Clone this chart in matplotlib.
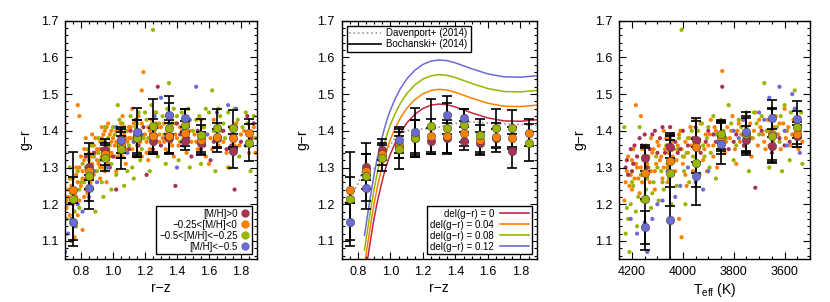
import numpy as np
import matplotlib.pyplot as plt
from matplotlib.ticker import MultipleLocator
from matplotlib.lines import Line2D

plt.rcParams['font.family'] = ['Liberation Sans', 'DejaVu Sans']
plt.rcParams['mathtext.fontset'] = 'custom'
plt.rcParams['mathtext.rm'] = 'Liberation Sans'
plt.rcParams['axes.unicode_minus'] = True

# colours for the metallicity groups
c_hi = '#a83255'
c_mid = '#ff8000'
c_low = '#9ab400'
c_vlow = '#6b6bd6'
group_colors = [c_hi, c_mid, c_low, c_vlow]
group_labels = ['[M/H]>0', '\u22120.25<[M/H]<0', '\u22120.5<[M/H]<\u22120.25', '[M/H]<\u22120.5']

# ---------------- panel 1 / 2 : binned g-r vs r-z ----------------
rz_bins = [0.75, 0.85, 0.95, 1.05, 1.15, 1.25, 1.35, 1.45, 1.55, 1.65, 1.75, 1.85]
nan = np.nan
rz_hi_mean = [nan, 1.302, 1.349, 1.355, 1.385, 1.372, 1.380, 1.373, 1.368, 1.380, 1.345, nan]
rz_hi_err = [nan, 0.035, 0.028, 0.030, 0.045, 0.035, 0.040, 0.025, 0.030, 0.025, 0.045, nan]
rz_mid_mean = [1.238, 1.290, 1.337, 1.362, 1.380, 1.386, 1.385, 1.393, 1.375, 1.382, 1.380, 1.395]
rz_mid_err = [0.035, 0.048, 0.030, 0.035, 0.050, 0.045, 0.045, 0.035, 0.040, 0.040, 0.030, 0.037]
rz_low_mean = [1.213, 1.278, 1.326, 1.350, 1.380, 1.413, 1.407, 1.415, 1.388, 1.407, 1.407, 1.368]
rz_low_err = [0.128, 0.090, 0.035, 0.055, 0.050, 0.075, 0.070, 0.045, 0.045, 0.053, 0.050, 0.050]
rz_vlow_mean = [1.152, 1.245, nan, 1.375, 1.398, nan, 1.443, 1.435, nan, nan, nan, nan]
rz_vlow_err = [0.050, 0.035, nan, 0.035, 0.065, nan, 0.052, 0.025, nan, nan, nan, nan]

# individual stars, g-r vs r-z
rz_mid_x = [0.71, 0.72, 0.73, 0.74, 0.75, 0.76, 0.77, 0.78, 0.79, 0.76, 0.74, 0.78, 0.79, 0.73, 0.77,
            0.80, 0.81, 0.82, 0.83, 0.84, 0.85, 0.86, 0.87, 0.88, 0.89, 0.82, 0.84, 0.86, 0.88, 0.83, 0.81, 0.87, 0.90,
            0.91, 0.92, 0.93, 0.94, 0.95, 0.96, 0.97, 0.98, 0.99, 0.92, 0.95, 0.97, 0.93, 0.99, 0.96,
            1.01, 1.02, 1.03, 1.04, 1.05, 1.06, 1.07, 1.08, 1.09, 1.10, 1.02, 1.06, 1.08, 1.04, 1.03,
            1.11, 1.12, 1.13, 1.14, 1.15, 1.16, 1.17, 1.18, 1.19, 1.18, 1.12, 1.19, 1.16,
            1.21, 1.22, 1.23, 1.24, 1.26, 1.27, 1.28, 1.29, 1.22, 1.26,
            1.31, 1.32, 1.33, 1.34, 1.36, 1.37, 1.38, 1.39,
            1.41, 1.42, 1.44, 1.46, 1.47, 1.49,
            1.51, 1.53, 1.56, 1.58, 1.61, 1.63, 1.66, 1.68, 1.71, 1.74, 1.77, 1.79, 1.82, 1.85, 1.88, 1.72, 1.60,
            0.72, 0.75, 0.77, 0.79, 0.78, 0.80, 0.71,
            0.81, 0.82, 0.83, 0.84, 0.85, 0.86, 0.87, 0.88, 0.89, 0.90, 0.85, 0.89,
            0.91, 0.92, 0.93, 0.94, 0.95, 0.96, 0.97, 0.98, 0.99, 1.00, 0.94,
            1.01, 1.02, 1.03, 1.04, 1.05, 1.06, 1.07, 1.08, 1.09, 1.10,
            1.11, 1.13, 1.14, 1.15, 1.17, 1.18, 1.20, 1.21, 1.23, 1.25, 1.27, 1.29,
            1.30, 1.32, 1.34, 1.35, 1.37, 1.39, 1.40, 1.43, 1.45, 1.48,
            1.52, 1.55, 1.57, 1.62, 1.65, 1.69, 1.73, 1.76, 1.80, 1.84, 1.87, 1.89]
rz_mid_y = [1.19, 1.22, 1.17, 1.25, 1.20, 1.23, 1.28, 1.26, 1.21, 1.11, 1.10, 1.47, 1.44, 1.27, 1.30,
            1.25, 1.29, 1.32, 1.27, 1.30, 1.34, 1.26, 1.31, 1.36, 1.29, 1.22, 1.23, 1.33, 1.28, 1.38, 1.13, 1.39, 1.32,
            1.35, 1.30, 1.38, 1.33, 1.40, 1.36, 1.31, 1.39, 1.34, 1.27, 1.29, 1.42, 1.41, 1.37, 1.26,
            1.36, 1.40, 1.33, 1.38, 1.42, 1.35, 1.39, 1.31, 1.37, 1.41, 1.29, 1.44, 1.38, 1.34, 1.37,
            1.38, 1.35, 1.42, 1.39, 1.36, 1.44, 1.40, 1.33, 1.56, 1.51, 1.46, 1.38, 1.34,
            1.37, 1.41, 1.35, 1.43, 1.39, 1.34, 1.41, 1.37, 1.32, 1.45,
            1.38, 1.42, 1.35, 1.40, 1.37, 1.44, 1.33, 1.39,
            1.36, 1.41, 1.38, 1.34, 1.42, 1.37,
            1.39, 1.35, 1.41, 1.33, 1.38, 1.43, 1.36, 1.40, 1.34, 1.39, 1.42, 1.36, 1.40, 1.34, 1.41, 1.30, 1.31,
            1.24, 1.27, 1.22, 1.30, 1.17, 1.33, 1.21,
            1.27, 1.35, 1.24, 1.33, 1.28, 1.36, 1.27, 1.33, 1.38, 1.35, 1.25, 1.34,
            1.31, 1.37, 1.33, 1.39, 1.34, 1.41, 1.35, 1.33, 1.40, 1.38, 1.30,
            1.33, 1.37, 1.40, 1.36, 1.39, 1.33, 1.41, 1.35, 1.40, 1.38,
            1.41, 1.37, 1.33, 1.40, 1.37, 1.42, 1.39, 1.34, 1.40, 1.37, 1.42, 1.39,
            1.41, 1.37, 1.44, 1.39, 1.36, 1.42, 1.38, 1.40, 1.36, 1.40,
            1.37, 1.43, 1.38, 1.35, 1.41, 1.37, 1.41, 1.36, 1.39, 1.37, 1.38, 1.34]
rz_low_x = [0.71, 0.72, 0.74, 0.76, 0.77, 0.78, 0.79, 0.73,
            0.81, 0.82, 0.84, 0.85, 0.86, 0.88, 0.89, 0.87,
            0.91, 0.92, 0.93, 0.95, 0.96, 0.98, 0.99, 0.94,
            1.01, 1.02, 1.04, 1.05, 1.07, 1.08, 1.10, 1.03,
            1.12, 1.14, 1.16, 1.17, 1.19, 1.13,
            1.21, 1.23, 1.25, 1.26, 1.28, 1.24,
            1.31, 1.33, 1.35, 1.36, 1.38,
            1.41, 1.43, 1.46, 1.48,
            1.52, 1.55, 1.58, 1.62, 1.64, 1.67, 1.70, 1.73, 1.76, 1.79, 1.83, 1.86, 1.89,
            0.74, 0.76, 0.79, 0.80, 0.83, 0.85, 0.87, 0.90, 0.91, 0.93, 0.95, 0.97, 0.99, 1.00, 1.03,
            1.06, 1.09, 1.11, 1.13, 1.15, 1.18, 1.20, 1.22, 1.27, 1.29, 1.32, 1.34, 1.37, 1.40, 1.42,
            1.45, 1.47, 1.50, 1.54, 1.57, 1.60, 1.63, 1.66, 1.69, 1.72, 1.75, 1.78, 1.81, 1.84, 1.88]
rz_low_y = [1.16, 1.20, 1.23, 1.18, 1.14, 1.29, 1.24, 1.30,
            1.31, 1.26, 1.35, 1.21, 1.29, 1.33, 1.18, 1.24,
            1.38, 1.32, 1.26, 1.41, 1.30, 1.36, 1.24, 1.22,
            1.39, 1.28, 1.43, 1.33, 1.25, 1.40, 1.36, 1.47,
            1.30, 1.41, 1.45, 1.32, 1.38, 1.27,
            1.43, 1.29, 1.675, 1.40, 1.33, 1.47,
            1.44, 1.31, 1.53, 1.39, 1.46,
            1.32, 1.45, 1.39, 1.30,
            1.43, 1.31, 1.46, 1.51, 1.29, 1.44, 1.38, 1.30, 1.46, 1.33, 1.45, 1.29, 1.38,
            1.27, 1.21, 1.19, 1.26, 1.30, 1.32, 1.36, 1.29, 1.34, 1.37, 1.32, 1.38, 1.31, 1.41, 1.36,
            1.42, 1.29, 1.44, 1.38, 1.42, 1.35, 1.45, 1.38, 1.45, 1.42, 1.39, 1.46, 1.42, 1.44, 1.37,
            1.43, 1.46, 1.40, 1.44, 1.41, 1.45, 1.40, 1.46, 1.42, 1.45, 1.40, 1.43, 1.41, 1.42, 1.44]
rz_hi_x = [0.83, 0.87, 0.93, 0.98, 1.02, 1.06, 1.11, 1.16, 1.21, 1.24, 1.28, 1.30, 1.34, 1.39, 1.40,
           1.44, 1.49, 1.53, 1.57, 1.61, 1.66, 1.71, 1.76, 1.80, 1.84, 1.88, 1.14, 1.25,
           0.88, 0.95, 1.00, 1.05, 1.10, 1.19, 1.33, 1.36, 1.42, 1.47, 1.55, 1.63, 1.69, 1.74, 1.86]
rz_hi_y = [1.33, 1.28, 1.35, 1.30, 1.24, 1.37, 1.40, 1.36, 1.28, 1.39, 1.52, 1.36, 1.34, 1.25, 1.42,
           1.36, 1.33, 1.40, 1.36, 1.32, 1.38, 1.35, 1.24, 1.37, 1.44, 1.42, 1.43, 1.35,
           1.34, 1.37, 1.33, 1.40, 1.35, 1.41, 1.38, 1.41, 1.39, 1.38, 1.35, 1.37, 1.40, 1.36, 1.38]
rz_vlow_x = [0.70, 0.72, 0.74, 0.78, 0.81, 0.85, 0.90, 0.97, 1.02, 1.09, 1.18, 1.30, 1.35, 1.44, 1.52,
             1.59, 1.65, 1.72, 1.83, 1.40, 0.76, 0.88, 1.13, 1.26, 1.48, 1.56, 1.77]
rz_vlow_y = [1.07, 1.12, 1.16, 1.20, 1.18, 1.22, 1.26, 1.30, 1.41, 1.34, 1.39, 1.49, 1.42, 1.40, 1.52,
             1.39, 1.45, 1.47, 1.36, 1.30, 1.14, 1.29, 1.37, 1.44, 1.43, 1.37, 1.46]

# literature relations (panel 2)
dav_rz = [0.70, 0.76, 0.80, 0.83, 0.90, 0.95, 1.00, 1.05, 1.10, 1.20, 1.30, 1.40, 1.50, 1.60, 1.70, 1.80, 1.90]
dav_gr = [1.195, 1.225, 1.255, 1.293, 1.297, 1.330, 1.362, 1.393, 1.400, 1.405, 1.410, 1.420, 1.424, 1.421, 1.419, 1.417, 1.415]
boc_rz = [0.84, 0.86, 0.88, 0.90, 0.92, 0.94, 0.96, 0.98, 1.00, 1.03, 1.06, 1.10, 1.15, 1.20,
          1.25, 1.30, 1.35, 1.40, 1.50, 1.60, 1.70, 1.80, 1.90]
boc_gr = [0.995, 1.053, 1.110, 1.163, 1.208, 1.247, 1.282, 1.312, 1.337, 1.368, 1.394, 1.421, 1.445, 1.461,
          1.470, 1.473, 1.471, 1.465, 1.449, 1.435, 1.427, 1.426, 1.430]
del_gr = [0.0, 0.04, 0.08, 0.12]
del_labels = ['del(g\u2212r) = 0', 'del(g\u2212r) = 0.04', 'del(g\u2212r) = 0.08', 'del(g\u2212r) = 0.12']
del_colors = ['#c0263f', '#ff8000', '#9ab400', '#6b6bd6']

# ---------------- panel 3 : binned g-r vs Teff ----------------
teff_bins = [4150, 4050, 3950, 3850, 3750, 3650, 3550]
tf_hi_mean = [1.325, 1.356, 1.374, 1.385, 1.374, 1.359, 1.385]
tf_hi_err = [0.035, 0.030, 0.060, 0.040, 0.040, 0.045, 0.030]
tf_mid_mean = [1.284, 1.318, 1.356, 1.382, 1.390, 1.390, 1.390]
tf_mid_err = [0.070, 0.070, 0.070, 0.045, 0.050, 0.070, 0.035]
tf_low_mean = [1.215, 1.285, 1.313, 1.390, 1.390, 1.387, 1.410]
tf_low_err = [0.140, 0.090, 0.065, 0.040, 0.045, 0.075, 0.045]
tf_vlow_mean = [1.137, 1.158, 1.277, 1.365, 1.397, 1.434, 1.431]
tf_vlow_err = [0.045, 0.235, 0.080, 0.055, 0.055, 0.050, 0.050]

tf_mid_x = [4220, 4210, 4200, 4190, 4180, 4170, 4160, 4150, 4140, 4130, 4120, 4110, 4100, 4090, 4080, 4070,
            4060, 4050, 4040, 4030, 4020, 4010, 4000, 3990, 3980, 3970, 3960, 3950, 3940, 3930, 3920, 3910,
            3900, 3890, 3880, 3870, 3860, 3845, 3835, 3825, 3815, 3805, 3795, 3785, 3775, 3765, 3755, 3745,
            3735, 3725, 3715, 3705, 3695, 3685, 3675, 3665, 3655, 3645, 3635, 3625, 3615, 3605, 3595, 3585,
            3575, 3565, 3555, 3545, 4230, 4185, 4165, 4145, 4005, 4015, 4125, 4075, 3985, 3955, 3905, 3865,
            3790, 3730, 3660, 3600, 3540,
            4225, 4215, 4205, 4195, 4185, 4175, 4165, 4155, 4145, 4135, 4125, 4115, 4105, 4095, 4085, 4075,
            4065, 4055, 4045, 4035, 4025, 4015, 4005, 3995, 3975, 3965, 3945, 3935, 3915, 3895, 3875, 3855,
            3830, 3810, 3780, 3770, 3750, 3720, 3700, 3680, 3670, 3640, 3620, 3590, 3570, 3550, 3530,
            4200, 4160, 4110, 4060, 3990, 3940, 3880]
tf_mid_y = [1.29, 1.25, 1.32, 1.27, 1.30, 1.23, 1.35, 1.28, 1.31, 1.26, 1.34, 1.29, 1.37, 1.32, 1.27, 1.35,
            1.30, 1.38, 1.33, 1.29, 1.36, 1.40, 1.31, 1.37, 1.34, 1.41, 1.29, 1.38, 1.35, 1.42, 1.32, 1.39,
            1.36, 1.43, 1.33, 1.40, 1.37, 1.563, 1.34, 1.41, 1.38, 1.44, 1.35, 1.40, 1.37, 1.43, 1.39, 1.34,
            1.42, 1.38, 1.45, 1.36, 1.41, 1.39, 1.35, 1.43, 1.40, 1.37, 1.44, 1.39, 1.35, 1.42, 1.38, 1.41,
            1.36, 1.43, 1.39, 1.35, 1.21, 1.47, 1.44, 1.22, 1.11, 1.16, 1.38, 1.40, 1.25, 1.43, 1.29, 1.30,
            1.31, 1.33, 1.36, 1.46, 1.40,
            1.26, 1.33, 1.28, 1.35, 1.31, 1.27, 1.30, 1.33, 1.36, 1.33, 1.29, 1.35, 1.31, 1.36, 1.33, 1.30,
            1.38, 1.34, 1.37, 1.35, 1.32, 1.39, 1.35, 1.33, 1.38, 1.36, 1.40, 1.37, 1.35, 1.39, 1.41, 1.39,
            1.37, 1.40, 1.42, 1.39, 1.41, 1.40, 1.43, 1.37, 1.40, 1.41, 1.42, 1.40, 1.39, 1.42, 1.37,
            1.24, 1.26, 1.24, 1.26, 1.28, 1.31, 1.36]
tf_low_x = [4225, 4215, 4205, 4195, 4185, 4175, 4165, 4155, 4145, 4135, 4125, 4115, 4105, 4095, 4085, 4075,
            4065, 4055, 4045, 4035, 4025, 4015, 4005, 3995, 3985, 3975, 3965, 3955, 3945, 3935, 3925, 3915,
            3905, 3895, 3880, 3860, 3840, 3820, 3800, 3780, 3760, 3740, 3720, 3700, 3680, 3660, 3640, 3620,
            3600, 3580, 3560, 3540, 3530, 4210, 4230, 4170, 3990, 3870, 3750, 3610,
            4220, 4200, 4180, 4160, 4140, 4120, 4100, 4080, 4060, 4040, 4020, 4000, 3980, 3960, 3940, 3920,
            3900, 3890, 3870, 3850, 3830, 3810, 3790, 3770, 3750, 3730, 3710, 3690, 3670, 3650, 3630, 3615,
            3595, 3575, 3555, 3535]
tf_low_y = [1.12, 1.16, 1.20, 1.25, 1.18, 1.22, 1.28, 1.14, 1.24, 1.30, 1.19, 1.26, 1.33, 1.21, 1.29, 1.24,
            1.36, 1.27, 1.20, 1.32, 1.25, 1.38, 1.675, 1.29, 1.34, 1.26, 1.40, 1.31, 1.36, 1.28, 1.42, 1.33,
            1.38, 1.30, 1.44, 1.35, 1.40, 1.47, 1.32, 1.43, 1.36, 1.29, 1.45, 1.39, 1.53, 1.30, 1.44, 1.37,
            1.47, 1.32, 1.51, 1.41, 1.31, 1.07, 1.41, 1.41, 1.20, 1.27, 1.41, 1.29,
            1.19, 1.26, 1.14, 1.21, 1.27, 1.23, 1.30, 1.26, 1.31, 1.28, 1.35, 1.33, 1.38, 1.33, 1.40, 1.36,
            1.41, 1.34, 1.39, 1.43, 1.38, 1.42, 1.36, 1.41, 1.45, 1.38, 1.42, 1.44, 1.40, 1.46, 1.41, 1.44,
            1.40, 1.45, 1.42, 1.45]
tf_hi_x = [4225, 4215, 4205, 4195, 4180, 4160, 4140, 4120, 4100, 4080, 4060, 4040, 4020, 4000, 3980, 3960,
           3930, 3900, 3870, 3845, 3820, 3790, 3760, 3715, 3690, 3650, 3620, 3580, 3550, 4150,
           4220, 4200, 4190, 4170, 4130, 4110, 4090, 4070, 4050, 4030, 4010, 3950, 3910, 3880, 3800, 3740, 3600]
tf_hi_y = [1.30, 1.28, 1.35, 1.31, 1.33, 1.36, 1.30, 1.39, 1.34, 1.41, 1.36, 1.39, 1.34, 1.40, 1.36, 1.38,
           1.34, 1.40, 1.37, 1.52, 1.35, 1.39, 1.36, 1.245, 1.40, 1.34, 1.38, 1.37, 1.40, 1.39,
           1.32, 1.29, 1.36, 1.38, 1.35, 1.40, 1.38, 1.34, 1.41, 1.37, 1.35, 1.41, 1.37, 1.39, 1.37, 1.38, 1.36]
tf_vlow_x = [4205, 4180, 4140, 4120, 4080, 4060, 4030, 4010, 3980, 3920, 3860, 3800, 3760, 3700, 3660, 3620,
             3590, 3560, 3540, 3950, 4150, 4100, 3900, 3780, 3680, 3600, 3570]
tf_vlow_y = [1.16, 1.12, 1.07, 1.16, 1.21, 1.29, 1.22, 1.25, 1.30, 1.24, 1.37, 1.40, 1.43, 1.45, 1.49, 1.52,
             1.36, 1.46, 1.34, 1.26, 1.15, 1.20, 1.29, 1.38, 1.43, 1.40, 1.50]


def style_axis(ax):
    ax.set_ylim(1.05, 1.70)
    ax.yaxis.set_major_locator(MultipleLocator(0.1))
    ax.yaxis.set_minor_locator(MultipleLocator(0.02))
    ax.tick_params(which='both', direction='in', top=True, right=True, labelsize=9, width=0.8)
    ax.tick_params(which='major', length=5, pad=5)
    ax.tick_params(which='minor', length=2.5)
    for s in ax.spines.values():
        s.set_linewidth(1.0)
    ax.set_ylabel('g\u2212r', fontsize=10, labelpad=6)


def draw_bins(ax, xs, means, errs):
    for m, e in zip(means, errs):
        ax.errorbar(xs, m, yerr=e, fmt='none', ecolor='black', elinewidth=1.2,
                    capsize=3.5, capthick=1.2, zorder=3)
    for m, col in zip(means, group_colors):
        ax.plot(xs, m, 'o', ms=6, mfc=col, mec='#444444', mew=0.4, zorder=4)


fig = plt.figure(figsize=(8.3, 3.02), dpi=100)
ax1 = fig.add_axes([0.0783, 0.1414, 0.2313, 0.7901])
ax2 = fig.add_axes([0.4117, 0.1414, 0.2349, 0.7901])
ax3 = fig.add_axes([0.7461, 0.1414, 0.2298, 0.7901])

rz_means = [rz_hi_mean, rz_mid_mean, rz_low_mean, rz_vlow_mean]
rz_errs = [rz_hi_err, rz_mid_err, rz_low_err, rz_vlow_err]

# panel 1
for x, y, col in [(rz_mid_x, rz_mid_y, c_mid), (rz_low_x, rz_low_y, c_low),
                  (rz_hi_x, rz_hi_y, c_hi), (rz_vlow_x, rz_vlow_y, c_vlow)]:
    ax1.scatter(x, y, s=9, c=col, edgecolors='none', zorder=1)
draw_bins(ax1, rz_bins, rz_means, rz_errs)
handles = [Line2D([], [], ls='none', marker='o', ms=6, mfc=c, mec='none') for c in group_colors]
ax1.legend(handles, group_labels, loc='lower right', markerfirst=False, fontsize=7,
           frameon=True, fancybox=False, edgecolor='black', framealpha=1, handlelength=0.8,
           handletextpad=0.4, labelspacing=0.1, borderpad=0.3, borderaxespad=0.5)

# panel 2
draw_bins(ax2, rz_bins, rz_means, rz_errs)
ax2.plot(dav_rz, dav_gr, ls=':', color='#999999', lw=1.2, zorder=2)
for d, col in zip(del_gr, del_colors):
    ax2.plot(boc_rz, [g + d for g in boc_gr], color=col, lw=1.1, zorder=2)
lit_handles = [Line2D([], [], ls=':', color='#999999', lw=1.2), Line2D([], [], color='black', lw=1.2)]
leg_lit = ax2.legend(lit_handles, ['Davenport+ (2014)', 'Bochanski+ (2014)'], loc='upper left',
                     fontsize=7, frameon=True, fancybox=False, edgecolor='black', framealpha=1,
                     handlelength=3.2, handletextpad=0.6, labelspacing=0.1, borderpad=0.3,
                     borderaxespad=0.5)
ax2.add_artist(leg_lit)
del_handles = [Line2D([], [], color=c, lw=1.2) for c in del_colors]
ax2.legend(del_handles, del_labels, loc='lower right', markerfirst=False, fontsize=7,
           frameon=True, fancybox=False, edgecolor='black', framealpha=1, handlelength=3.0,
           handletextpad=0.6, labelspacing=0.1, borderpad=0.3, borderaxespad=0.5)

for ax in (ax1, ax2):
    style_axis(ax)
    ax.set_xlim(0.7, 1.9)
    ax.xaxis.set_major_locator(MultipleLocator(0.2))
    ax.xaxis.set_minor_locator(MultipleLocator(0.05))
    ax.set_xlabel('r\u2212z', fontsize=10, labelpad=2)

# panel 3
for x, y, col in [(tf_mid_x, tf_mid_y, c_mid), (tf_low_x, tf_low_y, c_low),
                  (tf_hi_x, tf_hi_y, c_hi), (tf_vlow_x, tf_vlow_y, c_vlow)]:
    ax3.scatter(x, y, s=9, c=col, edgecolors='none', zorder=1)
draw_bins(ax3, teff_bins, [tf_hi_mean, tf_mid_mean, tf_low_mean, tf_vlow_mean],
          [tf_hi_err, tf_mid_err, tf_low_err, tf_vlow_err])
style_axis(ax3)
ax3.set_xlim(4250, 3500)
ax3.xaxis.set_major_locator(MultipleLocator(200))
ax3.xaxis.set_minor_locator(MultipleLocator(50))
ax3.set_xlabel(r'T$_{\rm eff}$ (K)', fontsize=10, labelpad=2)

fig.savefig('out.png', dpi=100)
